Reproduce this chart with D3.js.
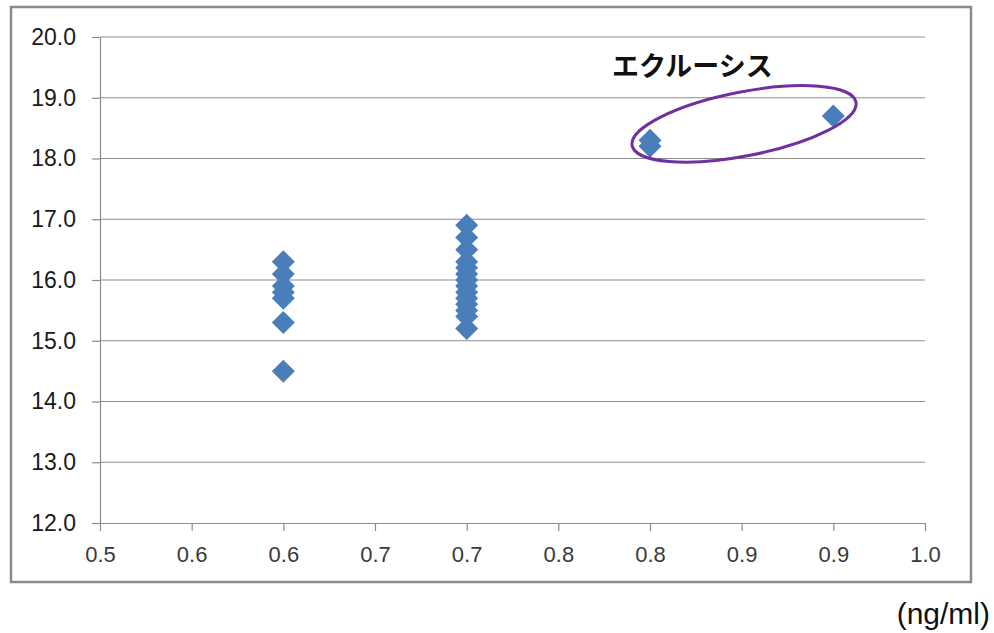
<!DOCTYPE html>
<html>
<head>
<meta charset="utf-8">
<script src="https://cdn.jsdelivr.net/npm/d3@7"></script>
<style>
  body { margin: 0; background: #ffffff; }
  svg { display: block; }
</style>
</head>
<body>
<svg id="chart" width="994" height="633"></svg>
<script>
// Concentration groups (ng/ml) and the measured values at each
const groupX = [0.6, 0.7, 0.8, 0.9];
const values06 = [16.3, 16.1, 15.9, 15.8, 15.7, 15.3, 14.5];
const values07 = [16.9, 16.7, 16.5, 16.3, 16.2, 16.1, 16.0, 15.9, 15.8, 15.7, 15.6, 15.5, 15.4, 15.2];
const values08 = [18.3, 18.2];
const values09 = [18.7];

// Axis ticks
const xTicks = [0.50, 0.55, 0.60, 0.65, 0.70, 0.75, 0.80, 0.85, 0.90, 0.95];
const xTickLabels = ["0.5", "0.6", "0.6", "0.7", "0.7", "0.8", "0.8", "0.9", "0.9", "1.0"];
const yTicks = [12, 13, 14, 15, 16, 17, 18, 19, 20];

// Annotation
const highlightLabel = "エクルーシス";
const unitLabel = "(ng/ml)";

const points = [values06, values07, values08, values09]
  .flatMap((vals, i) => vals.map(v => ({ x: groupX[i], y: v })));

const svg = d3.select("#chart");
const plot = { left: 100, right: 925, top: 37, bottom: 523 };

const x = d3.scaleLinear().domain([0.5, 0.95]).range([plot.left, plot.right]);
const y = d3.scaleLinear().domain([12, 20]).range([plot.bottom, plot.top]);

const gridColor = "#8c8c8c";

// Outer frame of the chart area
svg.append("rect")
  .attr("x", 11).attr("y", 7)
  .attr("width", 960).attr("height", 575)
  .attr("fill", "#ffffff")
  .attr("stroke", "#8a8a8a")
  .attr("stroke-width", 2.5);

// Horizontal gridlines
svg.append("g")
  .selectAll("line")
  .data(yTicks.filter(d => d !== 12))
  .join("line")
  .attr("x1", plot.left).attr("x2", plot.right)
  .attr("y1", d => y(d)).attr("y2", d => y(d))
  .attr("stroke", gridColor)
  .attr("stroke-width", 1.2);

// Y axis
const yAxis = svg.append("g")
  .attr("transform", `translate(${plot.left},0)`)
  .call(d3.axisLeft(y).tickValues(yTicks).tickFormat(d3.format(".1f"))
    .tickSize(8).tickSizeOuter(0).tickPadding(16));
yAxis.select(".domain").attr("stroke", gridColor).attr("stroke-width", 1.2);
yAxis.selectAll(".tick line").attr("stroke", gridColor).attr("stroke-width", 1.2);
yAxis.selectAll(".tick text")
  .attr("font-family", "'Liberation Sans', Arial, sans-serif")
  .attr("font-size", 23)
  .attr("fill", "#1a1a1a");

// X axis
const xAxis = svg.append("g")
  .attr("transform", `translate(0,${plot.bottom})`)
  .call(d3.axisBottom(x).tickValues(xTicks).tickFormat((d, i) => xTickLabels[i])
    .tickSize(8).tickSizeOuter(0).tickPadding(15));
xAxis.select(".domain").attr("stroke", gridColor).attr("stroke-width", 1.2);
xAxis.selectAll(".tick line").attr("stroke", gridColor).attr("stroke-width", 1.2);
xAxis.selectAll(".tick text")
  .attr("font-family", "'Liberation Sans', Arial, sans-serif")
  .attr("font-size", 22)
  .attr("fill", "#3a3a3a");

// Data points as diamonds
const diamond = "M0,-11.5L11.5,0L0,11.5L-11.5,0Z";
svg.append("g")
  .selectAll("path")
  .data(points)
  .join("path")
  .attr("d", diamond)
  .attr("transform", d => `translate(${x(d.x)},${y(d.y)})`)
  .attr("fill", "#4a7ebb");

// Ellipse around the high-value group
svg.append("ellipse")
  .attr("cx", 0).attr("cy", 0)
  .attr("rx", 114).attr("ry", 32)
  .attr("transform", `translate(${x(0.8513)},${y(18.57)}) rotate(-11)`)
  .attr("fill", "none")
  .attr("stroke", "#7030a0")
  .attr("stroke-width", 3);

svg.append("text")
  .attr("x", 612).attr("y", 76)
  .attr("font-family", "'Noto Sans CJK JP', sans-serif")
  .attr("font-weight", "bold")
  .attr("font-size", 27)
  .attr("fill", "#111")
  .text(highlightLabel);

svg.append("text")
  .attr("x", 990).attr("y", 624)
  .attr("text-anchor", "end")
  .attr("font-family", "'Liberation Sans', Arial, sans-serif")
  .attr("font-size", 30)
  .attr("fill", "#111")
  .text(unitLabel);
</script>
</body>
</html>
